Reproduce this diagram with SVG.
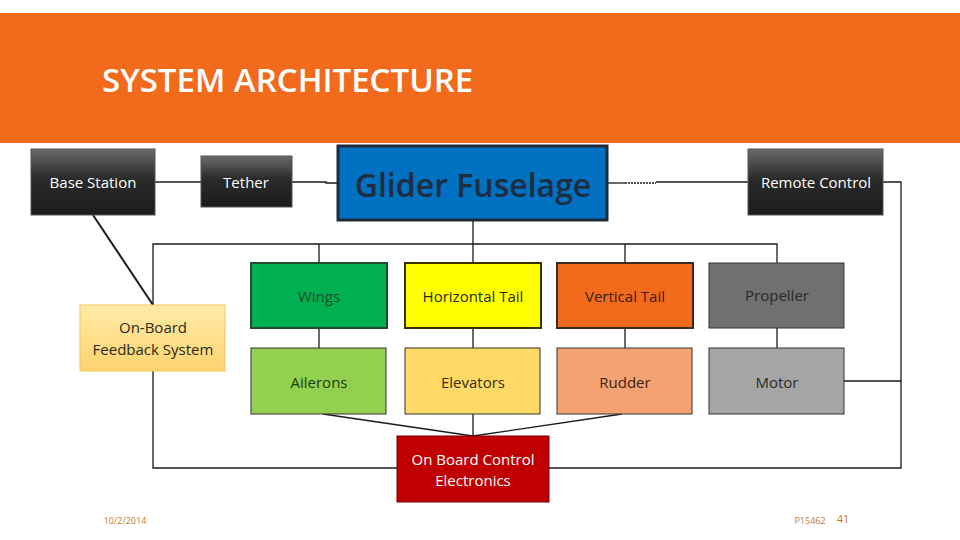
<svg xmlns="http://www.w3.org/2000/svg" width="960" height="540" viewBox="0 0 960 540">
<defs>
<linearGradient id="dark" x1="0" y1="0" x2="0" y2="1">
<stop offset="0" stop-color="#6b6b6b"/>
<stop offset="0.45" stop-color="#2a2a2a"/>
<stop offset="1" stop-color="#1c1c1c"/>
</linearGradient>
<linearGradient id="yel" x1="0" y1="0" x2="0" y2="1">
<stop offset="0" stop-color="#FFEBA8"/>
<stop offset="1" stop-color="#FFD36E"/>
</linearGradient>
<style>
.lbl{font-family:"Open Sans","Liberation Sans",sans-serif;font-size:15px;text-anchor:middle;dominant-baseline:central}
.w{fill:#ffffff}
.dk{fill:#2a2a1a}
.ln{stroke:#1a1a1a;stroke-width:1.3;fill:none}
.foot{font-family:"Open Sans","Liberation Sans",sans-serif;fill:#C07838}
</style>
</defs>
<rect x="0" y="0" width="960" height="540" fill="#ffffff"/>
<rect x="0" y="13" width="960" height="130" fill="#F26A1B"/>
<text x="102" y="92" font-family="Open Sans, Liberation Sans, sans-serif" font-size="33" font-weight="600" fill="#ffffff">SYSTEM ARCHITECTURE</text>

<g id="connectors" class="ln">
<line x1="155" y1="182" x2="201" y2="182"/>
<polyline points="292,182 326,182 326,183 337,183"/>
<line x1="607" y1="183" x2="625" y2="183"/>
<line x1="625" y1="183" x2="656" y2="183" stroke-dasharray="2,1"/>
<line x1="656" y1="182" x2="748" y2="182"/>
<polyline points="883,182 901,182 901,468 153,468 153,244 777,244 777,263"/>
<line x1="93" y1="215" x2="153" y2="305" stroke-width="2"/>
<line x1="473" y1="220" x2="473" y2="263"/>
<line x1="319" y1="244" x2="319" y2="263"/>
<line x1="625" y1="244" x2="625" y2="263"/>
<line x1="319" y1="328" x2="319" y2="348"/>
<line x1="473" y1="328" x2="473" y2="348"/>
<line x1="625" y1="328" x2="625" y2="348"/>
<line x1="777" y1="328" x2="777" y2="348"/>
<line x1="844" y1="381" x2="901" y2="381"/>
<polyline points="323,414 473,436 622,414"/>
<line x1="473" y1="414" x2="473" y2="436"/>
</g>

<g id="base-station"><rect x="31" y="149" width="124" height="66" fill="url(#dark)" stroke="#555" stroke-width="1"/><text class="lbl w" x="93" y="182">Base Station</text></g>
<g id="tether"><rect x="201" y="156" width="91" height="51" fill="url(#dark)" stroke="#555" stroke-width="1"/><text class="lbl w" x="246" y="182">Tether</text></g>
<g id="glider-fuselage"><rect x="338" y="146" width="269" height="74" fill="#0070C0" stroke="#1f2a38" stroke-width="3"/><text x="473" y="184" font-family="Open Sans, Liberation Sans, sans-serif" font-size="32" font-weight="600" fill="#1f2d40" text-anchor="middle" dominant-baseline="central">Glider Fuselage</text></g>
<g id="remote-control"><rect x="748" y="149" width="135" height="66" fill="url(#dark)" stroke="#555" stroke-width="1"/><text class="lbl w" x="816" y="182">Remote Control</text></g>

<g id="feedback"><rect x="80" y="305" width="145" height="66" fill="url(#yel)" stroke="#F3C560" stroke-width="1"/><text class="lbl dk" x="153" y="327">On-Board</text><text class="lbl dk" x="153" y="349">Feedback System</text></g>

<g id="wings"><rect x="251" y="263" width="136" height="65" fill="#00B050" stroke="#1E4D2B" stroke-width="2"/><text class="lbl" fill="#1E4D2B" x="319" y="296">Wings</text></g>
<g id="horizontal-tail"><rect x="405" y="263" width="136" height="65" fill="#FFFF00" stroke="#3A3000" stroke-width="2"/><text class="lbl" fill="#2a2a10" x="473" y="296">Horizontal Tail</text></g>
<g id="vertical-tail"><rect x="557" y="263" width="136" height="65" fill="#F26A1B" stroke="#3E2A1C" stroke-width="2"/><text class="lbl" fill="#3a2010" x="625" y="296">Vertical Tail</text></g>
<g id="propeller"><rect x="709" y="263" width="135" height="65" fill="#707070" stroke="#333" stroke-width="1"/><text class="lbl" fill="#2a2a2a" x="777" y="295">Propeller</text></g>

<g id="ailerons"><rect x="251" y="348" width="135" height="66" fill="#92D050" stroke="#333" stroke-width="1"/><text class="lbl" fill="#1f3a10" x="319" y="382">Ailerons</text></g>
<g id="elevators"><rect x="405" y="348" width="135" height="66" fill="#FFD966" stroke="#333" stroke-width="1"/><text class="lbl" fill="#3a2a10" x="473" y="382">Elevators</text></g>
<g id="rudder"><rect x="557" y="348" width="135" height="66" fill="#F5A273" stroke="#333" stroke-width="1"/><text class="lbl" fill="#3a2515" x="625" y="382">Rudder</text></g>
<g id="motor"><rect x="709" y="348" width="135" height="66" fill="#A6A6A6" stroke="#333" stroke-width="1"/><text class="lbl" fill="#2a2a2a" x="777" y="382">Motor</text></g>

<g id="control-electronics"><rect x="397" y="436" width="152" height="66" fill="#C00000" stroke="#7a0000" stroke-width="1"/><text class="lbl w" x="473" y="459">On Board Control</text><text class="lbl w" x="473" y="480">Electronics</text></g>

<text class="foot" x="125" y="524" font-size="9" text-anchor="middle">10/2/2014</text>
<text class="foot" x="810" y="524" font-size="9" text-anchor="middle">P15462</text>
<text class="foot" x="843" y="523" font-size="11" text-anchor="middle">41</text>
</svg>
